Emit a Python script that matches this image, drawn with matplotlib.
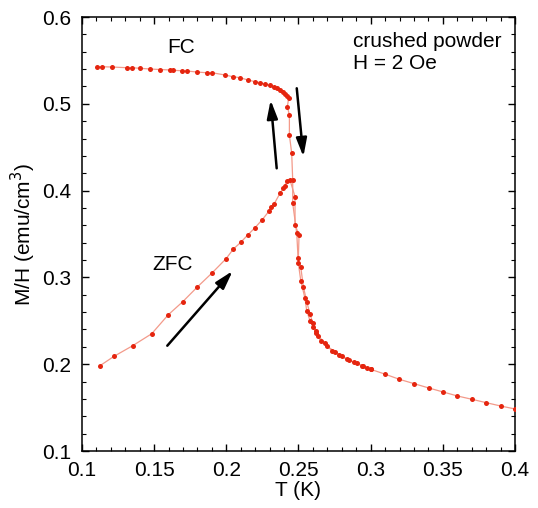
import matplotlib
matplotlib.use('Agg')
import matplotlib.pyplot as plt
from matplotlib.ticker import MultipleLocator

plt.rcParams['font.family'] = ['Liberation Sans', 'DejaVu Sans']

# zero-field-cooled data (warming), T in K, M/H in emu/cm^3
zfc_T = [0.1125, 0.1222, 0.1351, 0.1483, 0.1598, 0.1698, 0.1797, 0.1901, 0.1998,
         0.2049, 0.2100, 0.2148, 0.2199, 0.2249, 0.2298, 0.2308, 0.2331, 0.2372,
         0.2395, 0.2407, 0.2419, 0.2441,
         0.2476, 0.2476, 0.2504, 0.2499, 0.2516, 0.2534, 0.2557, 0.2580, 0.2599,
         0.2622, 0.2638, 0.2684, 0.2730, 0.2783, 0.2834, 0.2885, 0.2938, 0.2977,
         0.3001, 0.3102, 0.3199, 0.3301, 0.3403, 0.3502, 0.3601, 0.3701, 0.3800,
         0.3902, 0.4001]
zfc_M = [0.1983, 0.2091, 0.2213, 0.2351, 0.2570, 0.2720, 0.2886, 0.3051, 0.3215,
         0.3327, 0.3404, 0.3488, 0.3573, 0.3665, 0.3768, 0.3815, 0.3846, 0.3969,
         0.4026, 0.4053, 0.4114, 0.4122,
         0.3930, 0.3604, 0.3489, 0.3220, 0.3116, 0.2893, 0.2720, 0.2578, 0.2471,
         0.2386, 0.2325, 0.2241, 0.2156, 0.2106, 0.2056, 0.2022, 0.1983, 0.1953,
         0.1941, 0.1884, 0.1826, 0.1776, 0.1726, 0.1680, 0.1634, 0.1596, 0.1557,
         0.1518, 0.1484]

# field-cooled data
fc_T = [0.1104, 0.1139, 0.1206, 0.1312, 0.1347, 0.1402, 0.1471, 0.1540, 0.1610,
        0.1631, 0.1693, 0.1728, 0.1797, 0.1864, 0.1901, 0.1991, 0.2046, 0.2095,
        0.2150, 0.2199, 0.2234, 0.2268, 0.2303, 0.2331, 0.2351, 0.2372, 0.2391,
        0.2407, 0.2421, 0.2432,
        0.2423, 0.2437, 0.2437, 0.2453, 0.2460, 0.2460, 0.2488, 0.2499, 0.2516,
        0.2545, 0.2557, 0.2580, 0.2603, 0.2622, 0.2654, 0.2696, 0.2753, 0.2800,
        0.2852, 0.2904, 0.2949, 0.3001]
fc_M = [0.5427, 0.5427, 0.5424, 0.5416, 0.5416, 0.5409, 0.5401, 0.5395, 0.5390,
        0.5386, 0.5381, 0.5378, 0.5366, 0.5358, 0.5358, 0.5332, 0.5312, 0.5301,
        0.5274, 0.5255, 0.5243, 0.5228, 0.5213, 0.5194, 0.5179, 0.5163, 0.5140,
        0.5113, 0.5090, 0.5067,
        0.4967, 0.4871, 0.4641, 0.4430, 0.4122, 0.3854, 0.3508, 0.3162, 0.2962,
        0.2759, 0.2616, 0.2501, 0.2425, 0.2356, 0.2271, 0.2210, 0.2144, 0.2094,
        0.2048, 0.2010, 0.1979, 0.1941]

fig = plt.figure(figsize=(5.38, 5.08), dpi=100)
ax = fig.add_axes([0.1524, 0.1122, 0.8048, 0.8543])

line_col = '#f39a8a'
dot_col = '#e5250f'
for T, M in [(fc_T, fc_M), (zfc_T, zfc_M)]:
    ax.plot(T, M, '-', color=line_col, lw=0.9, zorder=2)
    ax.plot(T, M, 'o', color=dot_col, ms=3.6, mew=0, zorder=3)

ax.set_xlim(0.1, 0.4)
ax.set_ylim(0.1, 0.6)
ax.xaxis.set_major_locator(MultipleLocator(0.05))
ax.xaxis.set_minor_locator(MultipleLocator(0.01))
ax.yaxis.set_major_locator(MultipleLocator(0.1))
ax.yaxis.set_minor_locator(MultipleLocator(0.02))
ax.xaxis.set_major_formatter(lambda v, p: f'{v:g}')
ax.yaxis.set_major_formatter(lambda v, p: f'{v:g}')
ax.tick_params(which='both', direction='in', top=True, right=True, labelsize=15)
ax.tick_params(which='major', length=5, width=1)
ax.tick_params(which='minor', length=3, width=0.8)
ax.tick_params(axis='x', pad=7)
ax.tick_params(axis='y', pad=8)
for s in ax.spines.values():
    s.set_linewidth(1.1)

ax.set_xlabel('T (K)', fontsize=15, labelpad=1)
ax.set_ylabel('M/H (emu/cm$^3$)', fontsize=15, labelpad=3)

ax.text(0.1686, 0.5654, 'FC', fontsize=15, ha='center', va='center')
ax.text(0.163, 0.3143, 'ZFC', fontsize=15, ha='center', va='center')
ax.text(0.625, 0.943, 'crushed powder', transform=ax.transAxes, fontsize=15, va='center')
ax.text(0.625, 0.893, 'H = 2 Oe', transform=ax.transAxes, fontsize=15, va='center')

arrow = dict(arrowstyle='-|>,head_length=1.1,head_width=0.32', lw=1.8, color='black',
             shrinkA=0, shrinkB=0)
ax.annotate('', xy=(0.2307, 0.5043), xytext=(0.2349, 0.4257), arrowprops=arrow)
ax.annotate('', xy=(0.2534, 0.4391), xytext=(0.2488, 0.5179), arrowprops=arrow)
ax.annotate('', xy=(0.2044, 0.3074), xytext=(0.1591, 0.2213), arrowprops=arrow)

fig.savefig('out.png', dpi=100)
